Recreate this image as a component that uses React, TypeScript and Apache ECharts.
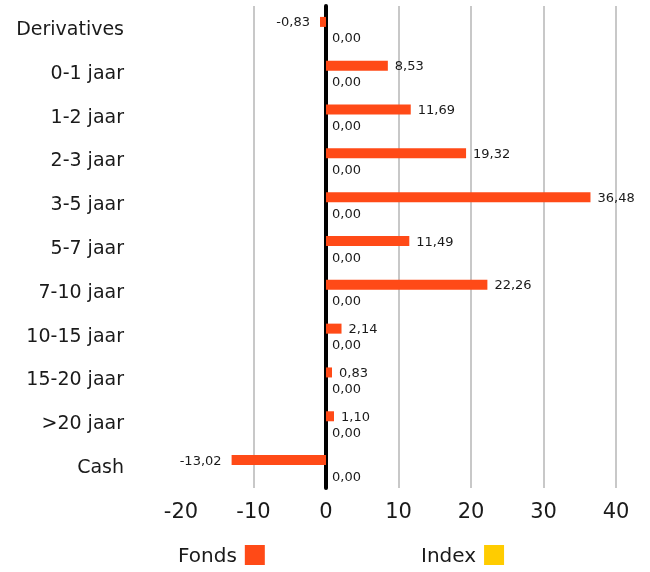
import React, { useEffect, useRef } from "react";
import * as echarts from "echarts";

const categories = ["Derivatives", "0-1 jaar", "1-2 jaar", "2-3 jaar", "3-5 jaar", "5-7 jaar", "7-10 jaar", "10-15 jaar", "15-20 jaar", ">20 jaar", "Cash"];
const fondsValues = [-0.83, 8.53, 11.69, 19.32, 36.48, 11.49, 22.26, 2.14, 0.83, 1.1, -13.02];
const indexValues = [0, 0, 0, 0, 0, 0, 0, 0, 0, 0, 0];
const xTicks = { min: -20, max: 40, interval: 10 };

const FONT = "'DejaVu Sans', sans-serif";
const TEXT = "#1a1a1a";
const fmt = (v: number) => v.toFixed(2).replace(".", ",");

export default function App() {
  const ref = useRef<HTMLDivElement>(null);
  useEffect(() => {
    if (!ref.current) return;
    const chart = echarts.init(ref.current, undefined, { renderer: "svg" });
    const legendCommon = {
      top: 545,
      padding: 0,
      align: "right",
      itemWidth: 20,
      itemHeight: 20,
      icon: "rect",
      selectedMode: false,
      textStyle: { fontFamily: FONT, fontSize: 20, color: TEXT, padding: [0, 3, 0, 0] },
    };
    chart.setOption({
      animation: false,
      grid: { left: 181, right: 34, top: 6, bottom: 84, containLabel: false },
      legend: [
        { ...legendCommon, data: ["Fonds"], left: 178 },
        { ...legendCommon, data: ["Index"], left: 421 },
      ],
      xAxis: {
        type: "value",
        min: xTicks.min,
        max: xTicks.max,
        interval: xTicks.interval,
        axisLine: { show: false },
        axisTick: { show: false },
        axisLabel: { fontFamily: FONT, fontSize: 21, color: TEXT, margin: 12 },
        splitLine: { show: true, showMinLine: false, lineStyle: { color: "#c8c8c8", width: 2 } },
      },
      yAxis: {
        type: "category",
        data: categories,
        inverse: true,
        axisLine: { show: true, onZero: true, lineStyle: { color: "#000", width: 4 } },
        axisTick: { show: false },
        axisLabel: { fontFamily: FONT, fontSize: 19, color: TEXT, margin: 57 },
      },
      series: [
        {
          name: "Fonds",
          type: "bar",
          barWidth: 10,
          barGap: "20%",
          itemStyle: { color: "#ff4a17" },
          data: fondsValues.map((v) => ({
            value: v,
            label: { position: v < 0 ? "left" : "right", distance: v < 0 ? 10 : 7 },
          })),
          label: {
            show: true,
            fontFamily: FONT,
            fontSize: 13,
            color: TEXT,
            formatter: (p: any) => fmt(p.value),
          },
        },
        {
          name: "Index",
          type: "bar",
          barWidth: 10,
          itemStyle: { color: "#ffcc00" },
          data: indexValues,
          label: {
            show: true,
            position: "right",
            distance: 6,
            offset: [0, 4],
            fontFamily: FONT,
            fontSize: 13,
            color: TEXT,
            formatter: (p: any) => fmt(p.value),
          },
        },
      ],
    });
    return () => chart.dispose();
  }, []);
  return <div ref={ref} style={{ position: "fixed", left: 0, top: 0, width: 650, height: 572 }} />;
}
